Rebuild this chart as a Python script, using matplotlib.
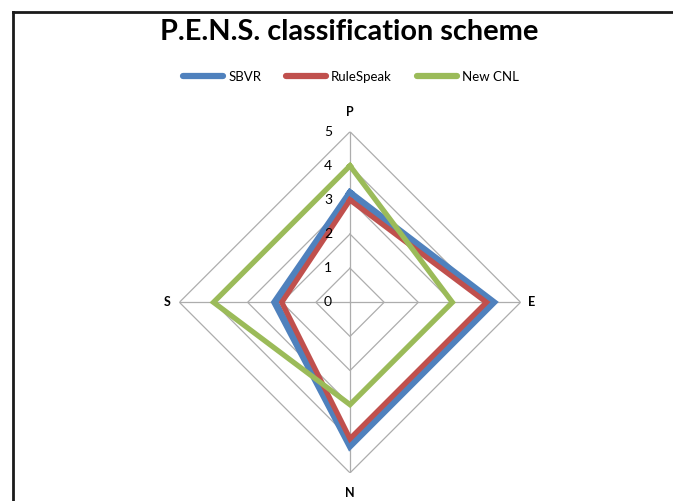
import numpy as np
import matplotlib
matplotlib.use("Agg")
import matplotlib.pyplot as plt
from matplotlib.lines import Line2D

categories = ["P", "E", "N", "S"]
series_names = ["SBVR", "RuleSpeak", "New CNL"]
sbvr = [3.2, 4.2, 4.2, 2.2]
rulespeak = [3.0, 4.0, 4.0, 2.0]
new_cnl = [4.0, 3.0, 3.0, 4.0]
r_ticks = [0, 1, 2, 3, 4, 5]
title = "P.E.N.S. classification scheme"

colors = ["#4F81BD", "#C0504D", "#9BBB59"]
widths = [5.2, 3.8, 3.8]
font = ["Lato", "DejaVu Sans"]

W, H = 673, 501
fig = plt.figure(figsize=(W / 100, H / 100), dpi=100)

cx, cy, rad = 350 / W, (H - 302.3) / H, 170.6
ax = fig.add_axes([cx - rad / W, cy - rad / H, 2 * rad / W, 2 * rad / H], projection="polar")
ax.set_theta_offset(np.pi / 2)
ax.set_theta_direction(-1)
ax.set_ylim(0, r_ticks[-1])
ax.grid(False)
ax.spines["polar"].set_visible(False)
ax.set_xticks([])
ax.set_yticks([])
ax.patch.set_alpha(0)

n = len(categories)
theta = np.arange(n) * 2 * np.pi / n
theta_c = np.append(theta, theta[0])

grid_col = "#ADADAD"
for r in r_ticks[1:]:
    ax.plot(theta_c, [r] * (n + 1), color=grid_col, lw=0.9, zorder=1)
for t in theta:
    ax.plot([t, t], [0, r_ticks[-1]], color=grid_col, lw=0.9, zorder=1)

for vals, c, lw, name in zip([sbvr, rulespeak, new_cnl], colors, widths, series_names):
    v = list(vals) + [vals[0]]
    ax.plot(theta_c, v, color=c, lw=lw, solid_joinstyle="miter", zorder=3, label=name)

for r in r_ticks:
    ax.annotate(str(r), xy=(0, r), xytext=(-22, 0), textcoords="offset pixels",
                ha="center", va="center", fontsize=10, family=font, color="#000000", zorder=4)

offsets = {"P": (0, 20), "E": (11, 0), "N": (0, -20), "S": (-12, 0)}
for t, cat in zip(theta, categories):
    ax.annotate(cat, xy=(t, r_ticks[-1]), xytext=offsets[cat], textcoords="offset pixels",
                ha="center", va="center", fontsize=9, fontweight="bold", family=font)

fig.text(349 / W, 1 - 32 / H, title, ha="center", va="center", fontsize=20.8,
         fontweight="bold", family=font)

handles = [Line2D([0], [0], color=c, lw=4.5, solid_capstyle="round") for c in colors]
fig.legend(handles, series_names, loc="center", bbox_to_anchor=(351 / W, 1 - 77 / H),
           ncol=3, frameon=False, prop={"family": font, "size": 9.5},
           handlelength=3.0, handletextpad=0.4, columnspacing=1.9)

fig.add_artist(Line2D([13 / W, 13 / W], [0, 1 - 11.5 / H], transform=fig.transFigure,
                      color="#1a1a1a", lw=2))
fig.add_artist(Line2D([13 / W, 1], [1 - 11.5 / H, 1 - 11.5 / H], transform=fig.transFigure,
                      color="#1a1a1a", lw=2))

fig.savefig("out.png", dpi=100, facecolor="white")
